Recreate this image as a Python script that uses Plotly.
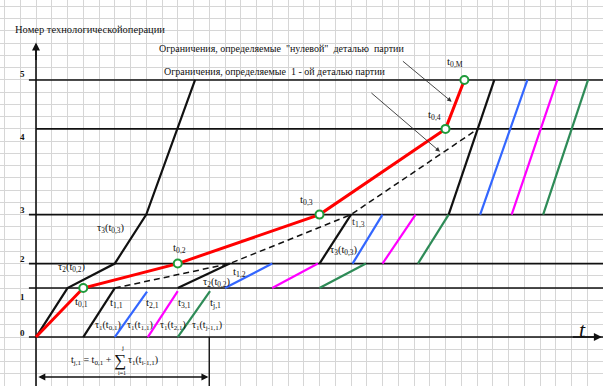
import plotly.graph_objects as go

# Vertical position of each operation line (in grid cells) and its number
op_level = [0, 4, 6, 10, 17, 21]
op_labels = ["0", "1", "2", "3", "4", "5"]

# Constraint set by the "zero" part of the batch (red line)
zero_t = [0, 3, 9, 18, 26, 27.2]
zero_op = [0, 1, 2, 3, 4, 5]
zero_names = ["t<sub>0,1</sub>", "t<sub>0,2</sub>", "t<sub>0,3</sub>", "t<sub>0,4</sub>", "t<sub>0,M</sub>"]

# Route of the leading part (black polyline from the origin)
lead_t = [0, 2, 5, 7, 10.1]
lead_op = [0, 1, 2, 3, 5]

# Constraint set by the 1st part of the batch (dashed line)
first_t = [5, 12.3, 20, 28.06]
first_op = [1, 2, 3, 4]

# Operation stages: from operation -> to operation
stage_from = [0, 1, 2, 3]
stage_to = [1, 2, 3, 5]
# Processing of the following parts, start / end time per stage
parts = {
    "black":   {"start": [3, 9, 18, 26.2],     "end": [5, 12.3, 20, 29.1],     "top1": 4.0},
    "blue":    {"start": [5, 12, 20.1, 28.2],  "end": [7.05, 15, 22, 31.2],    "top1": 3.7},
    "magenta": {"start": [7.1, 15, 22, 30.2],  "end": [9, 17.9, 24.1, 33.1],   "top1": 3.75},
    "green":   {"start": [9, 18, 24.25, 32.2], "end": [11.05, 20.95, 26.2, 35.05], "top1": 3.75},
}
part_color = {"black": "#111111", "blue": "#3366ff", "magenta": "#ff00ff", "green": "#2e8b57"}

X_MIN, X_MAX = -2.2857, 36.0
Y_MIN, Y_MAX = -4.0, 27.53

FONT = "Liberation Serif, DejaVu Serif, Times New Roman, serif"
fig = go.Figure()

# operation lines
line_start = [-0.45, -0.45, -0.45, -0.45, 0.0, -0.45]
for lvl, x0 in zip(op_level, line_start):
    fig.add_trace(go.Scatter(x=[x0, X_MAX], y=[lvl, lvl], mode="lines",
                             line=dict(color="#111111", width=1.6), hoverinfo="skip"))

# vertical axis
fig.add_trace(go.Scatter(x=[0, 0], y=[Y_MIN, 23.6], mode="lines",
                         line=dict(color="#111111", width=1.6), hoverinfo="skip"))
# dimension marker
fig.add_trace(go.Scatter(x=[11, 11], y=[Y_MIN, 0], mode="lines",
                         line=dict(color="#111111", width=1.4), hoverinfo="skip"))

# leading part route
fig.add_trace(go.Scatter(x=lead_t, y=[op_level[o] for o in lead_op], mode="lines",
                         line=dict(color="#111111", width=2.2), hoverinfo="skip"))

# following parts
for name, p in parts.items():
    for i, (t0, t1) in enumerate(zip(p["start"], p["end"])):
        y0 = op_level[stage_from[i]]
        y1 = p["top1"] if i == 0 else op_level[stage_to[i]]
        fig.add_trace(go.Scatter(x=[t0, t1], y=[y0, y1], mode="lines",
                                 line=dict(color=part_color[name], width=2.2), hoverinfo="skip"))

# first-part constraint
fig.add_trace(go.Scatter(x=first_t, y=[op_level[o] for o in first_op], mode="lines",
                         line=dict(color="#111111", width=1.5, dash="6px,4px"), hoverinfo="skip"))

# zero-part constraint
zy = [op_level[o] for o in zero_op]
fig.add_trace(go.Scatter(x=zero_t, y=zy, mode="lines",
                         line=dict(color="#ff0000", width=3), hoverinfo="skip"))
fig.add_trace(go.Scatter(x=zero_t[1:], y=zy[1:], mode="markers",
                         marker=dict(symbol="circle", size=8, color="white",
                                     line=dict(color="#1f9a3a", width=2)),
                         hoverinfo="skip"))

ann = []


def txt(x, y, s, size=11, color="#111111", xanchor="center", **kw):
    ann.append(dict(x=x, y=y, xref="x", yref="y", text=s, showarrow=False,
                    xanchor=xanchor, yanchor="middle",
                    font=dict(family=FONT, size=size, color=color), **kw))


# operation numbers
num_pos = [0.33, 3.27, 6.37, 10.4, 16.3, 21.5]
for lab, yy in zip(op_labels, num_pos):
    txt(-0.83, yy, "<b>" + lab + "</b>", size=9)

txt(3.43, 25.16, "Номер технологическойоперации", size=10.5)
txt(15.59, 23.6, "Ограничения, определяемые  \"нулевой\"  деталью  партии", size=10)
txt(15.2, 21.73, "Ограничения, определяемые  1 - ой деталью партии", size=10)
txt(34.7, 0.6, "<i>t</i>", size=22)

# zero-part event labels
zero_lab_pos = [(2.86, 2.86), (9.08, 7.27), (17.2, 11.2), (25.33, 18.14), (26.6, 22.47)]
for (xx, yy), s in zip(zero_lab_pos, zero_names):
    txt(xx, yy, s)

# start of operation 1 for each part
txt(5.08, 2.78, "t<sub>1,1</sub>")
txt(7.37, 2.78, "t<sub>2,1</sub>")
txt(9.4, 2.78, "t<sub>3,1</sub>")
txt(11.37, 2.78, "t<sub>j,1</sub>")
txt(4.57, 0.98, "τ<sub>1</sub>(t<sub>0,1</sub>)", size=10)
txt(6.6, 0.98, "τ<sub>1</sub>(t<sub>1,1</sub>)", size=10)
txt(8.7, 0.98, "τ<sub>1</sub>(t<sub>2,1</sub>)", size=10)
txt(10.86, 0.98, "τ<sub>1</sub>(t<sub>j-1,1</sub>)", size=10)

txt(2.29, 5.64, "τ<sub>2</sub>(t<sub>0,2</sub>)", size=10.5)
txt(4.76, 8.9, "τ<sub>3</sub>(t<sub>0,3</sub>)", size=10.5)
txt(12.9, 5.31, "t<sub>1,2</sub>")
txt(11.5, 4.49, "τ<sub>2</sub>(t<sub>0,2</sub>)", size=10.5)
txt(20.5, 9.4, "t<sub>1,3</sub>", color="#333333")
txt(19.56, 7.1, "τ<sub>3</sub>(t<sub>0,3</sub>)", size=10.5)

# start-time formula
txt(4.95, -1.88, "t<sub>j,1</sub> = t<sub>0,1</sub> +", size=10, xanchor="right")
txt(5.33, -1.95, "∑", size=17)
txt(5.5, -0.9, "j", size=7)
txt(5.45, -2.95, "i=1", size=6)
txt(5.7, -1.88, "τ<sub>1</sub>(t<sub>i-1,1</sub>)", size=10, xanchor="left")


def arrow(x, y, ax, ay, width=1.5, color="#111111", side="end", size=1.0, head=2):
    ann.append(dict(x=x, y=y, ax=ax, ay=ay, xref="x", yref="y", axref="x", ayref="y",
                    text="", showarrow=True, arrowhead=head, startarrowhead=head,
                    arrowside=side, arrowsize=size, arrowwidth=width, arrowcolor=color))


arrow(35.93, 0, 34.0, 0, width=1.6)        # time axis
arrow(0, 24.05, 0, 22.5, width=1.6)        # operation axis
arrow(10.95, -3.27, 0.05, -3.27, width=1.4, side="end+start")
arrow(26.39, 19.22, 23.2, 22.63, width=0.9, color="#333333")
arrow(25.65, 15.14, 21.2, 20.04, width=0.9, color="#333333")

fig.update_layout(
    width=603, height=386, margin=dict(l=0, r=0, t=0, b=0),
    paper_bgcolor="white", plot_bgcolor="white", showlegend=False,
    annotations=ann,
    xaxis=dict(range=[X_MIN, X_MAX], dtick=1, tick0=0, showgrid=True, gridcolor="#d6d6d6",
               gridwidth=1, zeroline=False, showticklabels=False, fixedrange=True),
    yaxis=dict(range=[Y_MIN, Y_MAX], dtick=1, tick0=0, showgrid=True, gridcolor="#d6d6d6",
               gridwidth=1, zeroline=False, showticklabels=False, fixedrange=True),
)

fig.write_html("out.html")
